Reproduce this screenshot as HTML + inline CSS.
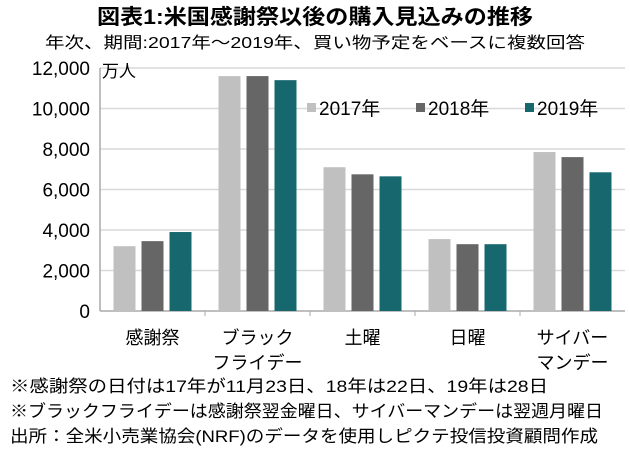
<!DOCTYPE html>
<html><head><meta charset="utf-8"><style>
body{margin:0;background:#fff;width:630px;height:456px;overflow:hidden;font-family:"Liberation Sans","Noto Sans CJK JP",sans-serif;color:#111}
</style></head><body>
<svg width="630" height="456" style="font-family:'Liberation Sans','Noto Sans CJK JP',sans-serif">
<text x="97" y="24" font-size="21" font-weight="bold" textLength="436" lengthAdjust="spacingAndGlyphs">図表1:米国感謝祭以後の購入見込みの推移</text>
<text x="45" y="48" font-size="16" textLength="540" lengthAdjust="spacingAndGlyphs">年次、期間:2017年～2019年、買い物予定をベースに複数回答</text>
<g id="grid"></g><g id="bars"></g><g id="yt"></g><g id="xt"></g>
<text x="102" y="77" font-size="17">万人</text>
<g font-size="19">
<rect x="307" y="103" width="9" height="9" fill="#c0c0c0"/><text x="319" y="115">2017年</text>
<rect x="416" y="103" width="9" height="9" fill="#666"/><text x="428" y="115">2018年</text>
<rect x="525" y="103" width="9" height="9" fill="#17686e"/><text x="537" y="115">2019年</text>
</g>
<g font-size="17">
<text x="10" y="392" textLength="538" lengthAdjust="spacingAndGlyphs">※感謝祭の日付は17年が11月23日、18年は22日、19年は28日</text>
<text x="10" y="417" textLength="593" lengthAdjust="spacingAndGlyphs">※ブラックフライデーは感謝祭翌金曜日、サイバーマンデーは翌週月曜日</text>
<text x="10" y="442" textLength="588" lengthAdjust="spacingAndGlyphs">出所：全米小売業協会(NRF)のデータを使用しピクテ投信投資顧問作成</text>
</g>
</svg>
<script>
const categories=[["感謝祭"],["ブラック","フライデー"],["土曜"],["日曜"],["サイバー","マンデー"]];
const s2017=[3200,11600,7100,3550,7850];
const s2018=[3450,11600,6750,3300,7600];
const s2019=[3900,11400,6650,3300,6850];
const yTicks=[0,2000,4000,6000,8000,10000,12000];
const NS="http://www.w3.org/2000/svg";
const x0=100,x1=625,y0=311,y1=68,ymax=12000;
const yS=v=>y0-(v/ymax)*(y0-y1);
const cw=(x1-x0)/categories.length;
function mk(t,a,p){const e=document.createElementNS(NS,t);for(const k in a)e.setAttribute(k,a[k]);p.appendChild(e);return e;}
const grid=document.getElementById('grid'),yt=document.getElementById('yt'),bars=document.getElementById('bars'),xt=document.getElementById('xt');
yTicks.forEach(v=>{
 if(v>0){const l=mk('line',{x1:x0,x2:x1,y1:yS(v),y2:yS(v),stroke:'#d9d9d9','stroke-width':1.5},grid);
 
 }
 const t=mk('text',{x:90,y:yS(v)+7,'text-anchor':'end','font-size':19},yt);t.textContent=v.toLocaleString('en-US');
 
 
});
const ax=mk('line',{x1:x0,x2:x1,y1:y0,y2:y0,stroke:'#aaa','stroke-width':1.5},grid);


const ay=mk('line',{x1:x0,x2:x0,y1:y1,y2:y0,stroke:'#aaa','stroke-width':1.5},grid);


const series=[s2017,s2018,s2019],cols=['#c0c0c0','#666','#17686e'],bw=22,gap=6;
categories.forEach((c,i)=>{
 const cx=x0+cw*i+cw/2;
 series.forEach((s,j)=>{
  const bx=cx-(3*bw+2*gap)/2+j*(bw+gap);
  const r=mk('rect',{x:bx,y:yS(s[i]),width:bw,height:y0-yS(s[i]),fill:cols[j]},bars);
  
  
 });
 if(i>0){const tk=mk('line',{x1:x0+cw*i,x2:x0+cw*i,y1:y0,y2:y0+5,stroke:'#aaa'},grid);
 
 }
 c.forEach((ln,k)=>{const t=mk('text',{x:cx,y:344+k*25,'text-anchor':'middle','font-size':18},xt);t.textContent=ln;
 
 });
});
</script>
</body></html>
